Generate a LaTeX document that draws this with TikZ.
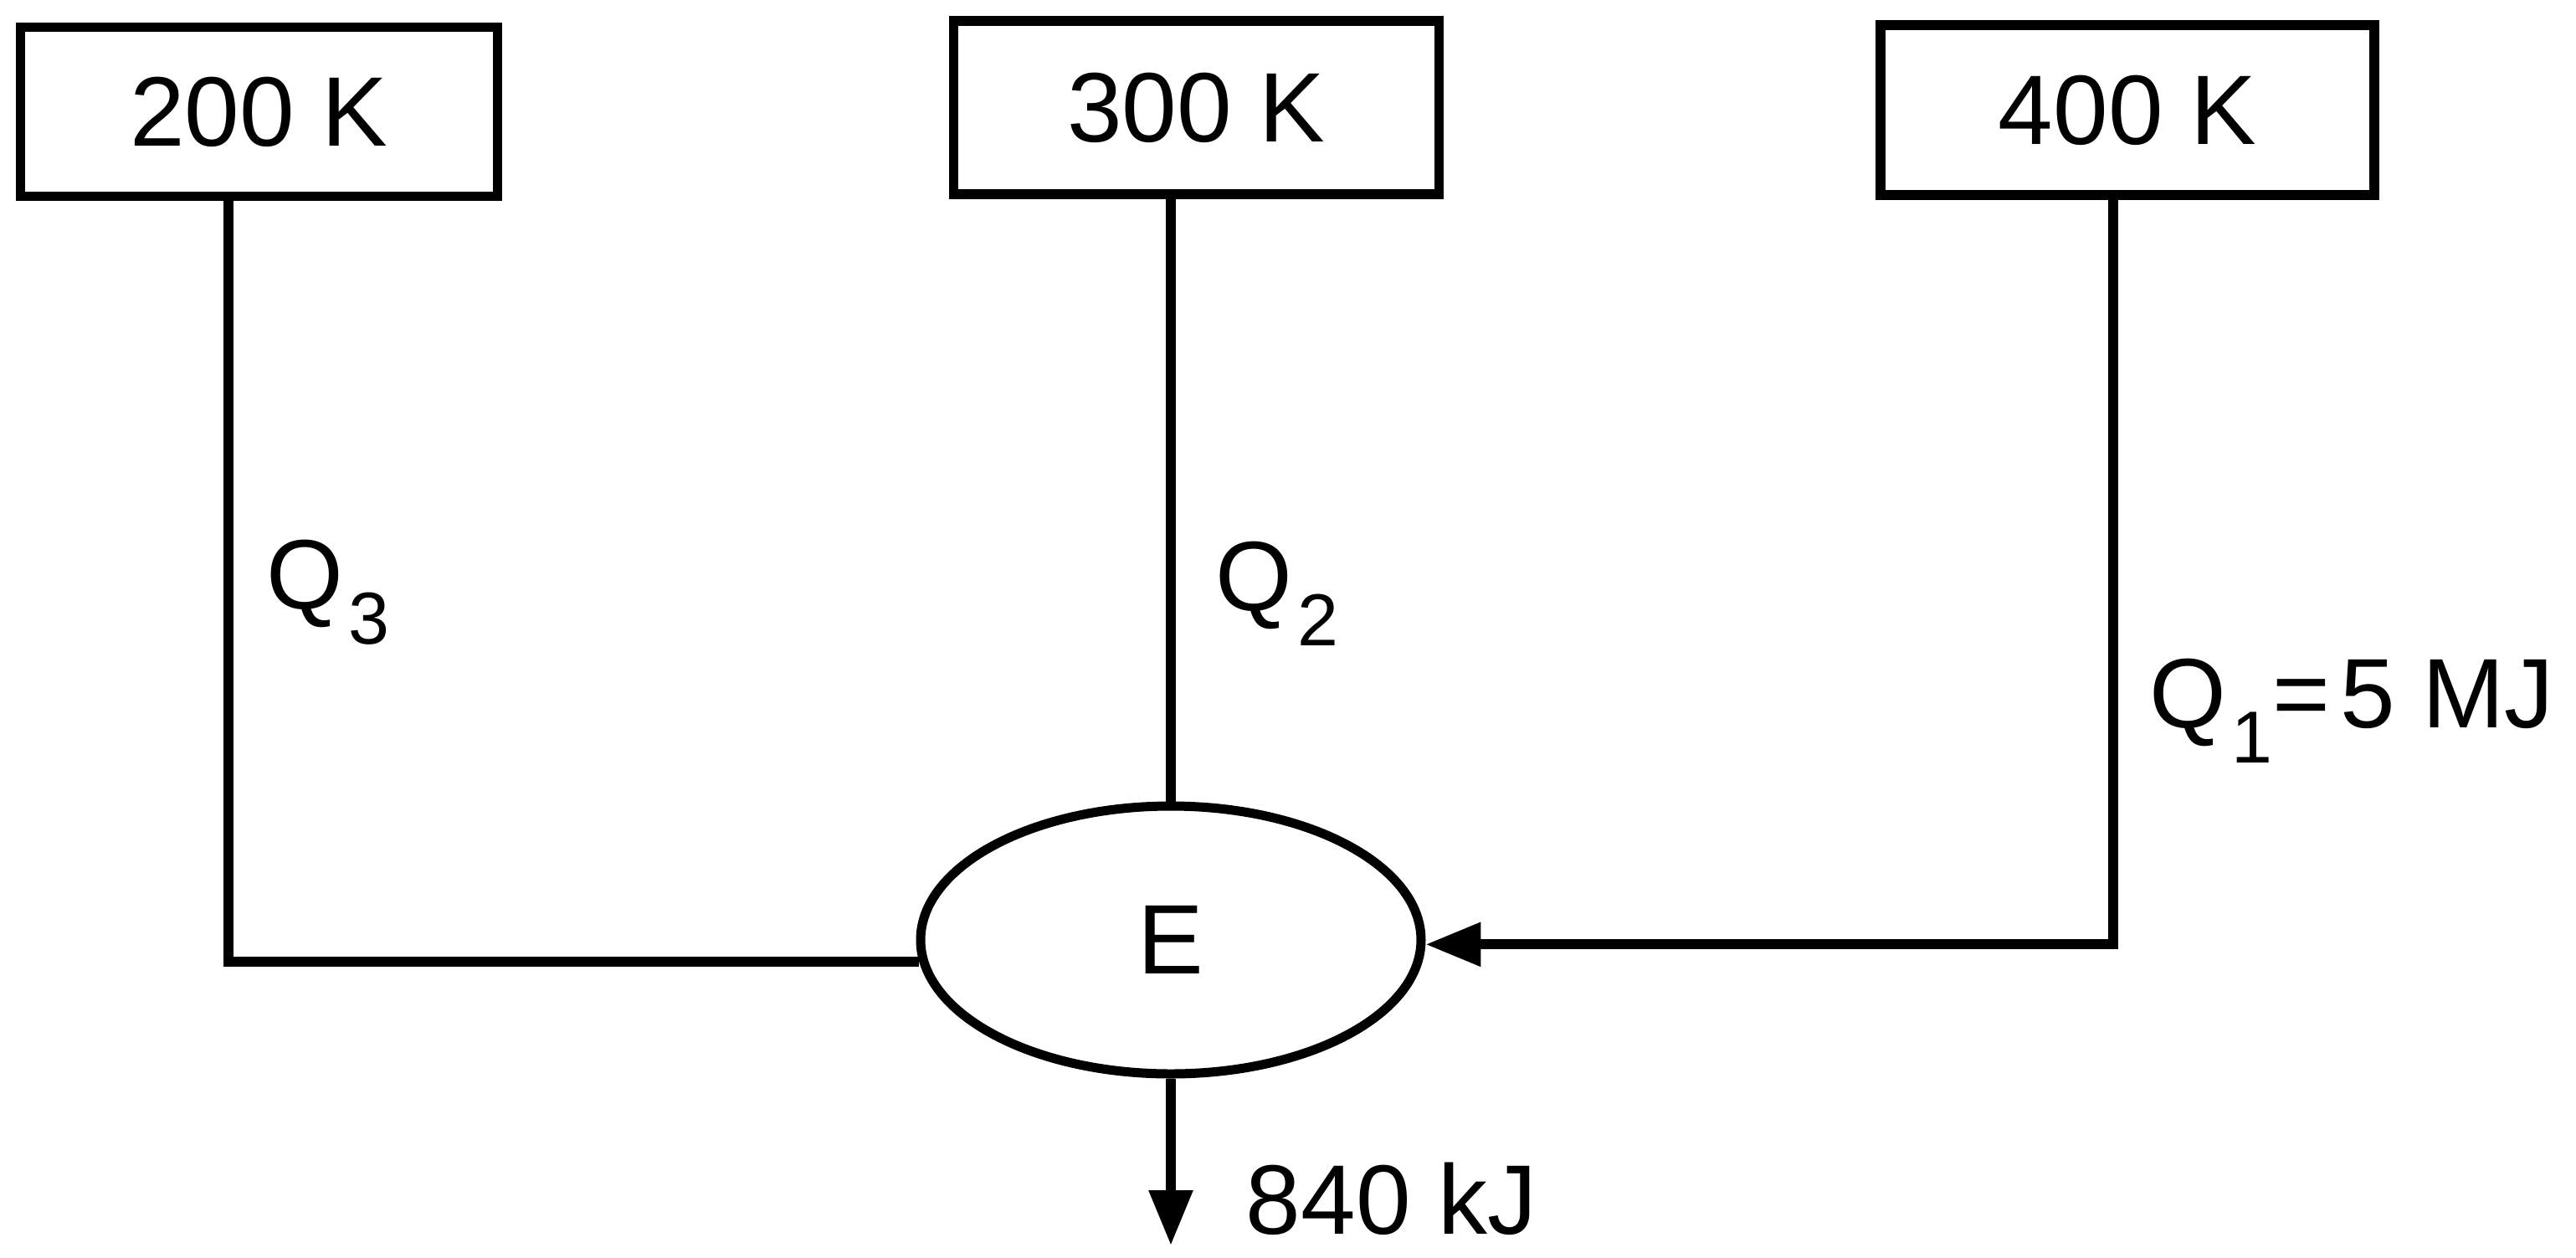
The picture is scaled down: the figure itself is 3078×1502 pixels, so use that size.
\documentclass[tikz,border=0pt]{standalone}
\usepackage{fontspec}
\setmainfont{Liberation Sans}
\usetikzlibrary{arrows.meta,shapes.geometric}
\newcommand\sbs[1]{\kern0.05em\raisebox{-0.36em}{\fontsize{22}{22}\selectfont #1}}
\begin{document}
\begin{tikzpicture}[x=0.25pt,y=-0.25pt,
  every node/.style={font=\fontsize{29.5}{35}\selectfont},
  reservoir/.style={draw,line width=2.9pt,rectangle,inner sep=0pt},
  engine/.style={draw,ellipse,line width=2.75pt,minimum width=149.5pt,minimum height=80pt,inner sep=0pt},
  flow/.style={line width=3pt},
  tip/.style={-{Triangle[length=16.5pt,width=12.5pt]}},
  lbl/.style={anchor=base west,inner sep=0pt}]
\useasboundingbox (0,0) rectangle (3078,1502);
\node[reservoir,minimum width=142.5pt,minimum height=50.5pt] (b1) at (309.5,133.5) {200 K};
\node[reservoir,minimum width=145pt,minimum height=51.75pt] (b2) at (1429.5,128.5) {300 K};
\node[reservoir,minimum width=147.5pt,minimum height=50.75pt] (b3) at (2542,131.5) {400 K};
\node[engine] (E) at (1399,1123) {E};
\coordinate (c1) at (273,0);
\coordinate (c3) at (2525,0);
\coordinate (out) at (1399,1488);
\draw[flow] (b1.south -| c1) |- (E.185);
\draw[flow] (b2.south -| E.north) -- (E.north);
\draw[flow,tip] (b3.south -| c3) |- (E.-1.5);
\draw[flow,tip] (E.south) -- (out);
\node[lbl] (q3) at (318,727) {Q\sbs{3}};
\node[lbl] (q2) at (1452,729) {Q\sbs{2}};
\node[lbl] (q1) at (2568,869) {Q\sbs{1}=\kern0.1em 5 MJ};
\node[lbl] (w) at (1488,1474) {840 kJ};
\end{tikzpicture}
\end{document}
